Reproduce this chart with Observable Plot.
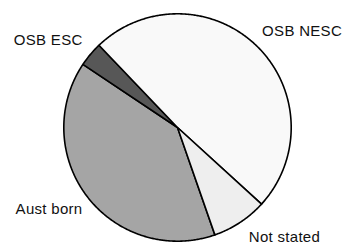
<!DOCTYPE html>
<html><head><meta charset="utf-8">
<script src="https://cdn.jsdelivr.net/npm/d3@7"></script>
<script src="https://cdn.jsdelivr.net/npm/@observablehq/plot@0.6"></script>
<style>body{margin:0;background:#fff} #chart svg{display:block;background:#fff}</style>
</head><body><div id="chart"></div>
<script>
const categories = ["Aust born", "OSB ESC", "OSB NESC", "Not stated"];
const values = [39.7, 3.5, 48.9, 7.9];
const colors = ["#a5a5a5", "#575757", "#f9f9f9", "#eeeeee"];

const startDeg = 160.8;
const start = startDeg * Math.PI / 180;
const data = categories.map((c, i) => ({category: c, value: values[i]}));
const arcs = d3.pie().sort(null).value(d => d.value).startAngle(start).endAngle(start + 2 * Math.PI)(data);

const pts = [];
for (const a of arcs) {
  const n = Math.max(2, Math.ceil((a.endAngle - a.startAngle) / (Math.PI / 360)));
  pts.push({category: a.data.category, x: 0, y: 0});
  for (let k = 0; k <= n; k++) {
    const t = a.startAngle + (a.endAngle - a.startAngle) * k / n;
    pts.push({category: a.data.category, x: Math.sin(t), y: Math.cos(t)});
  }
}
const lr = 1.09;
const labels = arcs.map(a => {
  const m = (a.startAngle + a.endAngle) / 2;
  return {category: a.data.category, x: lr * Math.sin(m), y: lr * Math.cos(m), right: Math.sin(m) > 0, upper: Math.cos(m) > 0};
});
const textOpts = {fontSize: 15, fontFamily: "Liberation Sans, Arial, sans-serif", fill: "#111"};
const labelMarks = [];
for (const right of [true, false]) for (const upper of [true, false]) {
  labelMarks.push(Plot.text(labels.filter(d => d.right === right && d.upper === upper), {
    x: "x", y: "y", text: "category",
    textAnchor: right ? "start" : "end",
    lineAnchor: upper ? "bottom" : "top",
    dy: upper ? -3 : 0,
    dx: upper ? (right ? -2 : 0) : 3,
    ...textOpts
  }));
}

const chart = Plot.plot({
  width: 344, height: 244,
  marginLeft: 63.3, marginRight: 53.3, marginTop: 13.3, marginBottom: 3.3,
  x: {domain: [-1, 1], axis: null},
  y: {domain: [-1, 1], axis: null},
  color: {domain: categories, range: colors},
  style: {fontFamily: "Liberation Sans, Arial, sans-serif", fontSize: "15px", letterSpacing: "0.3px", background: "#fff", overflow: "visible"},
  marks: [
    Plot.line(pts, {x: "x", y: "y", z: "category", fill: "category", stroke: "#000", strokeWidth: 1.6, curve: "linear-closed", strokeLinejoin: "round"}),
    ...labelMarks
  ]
});
document.getElementById("chart").appendChild(chart);
</script>
</body></html>
